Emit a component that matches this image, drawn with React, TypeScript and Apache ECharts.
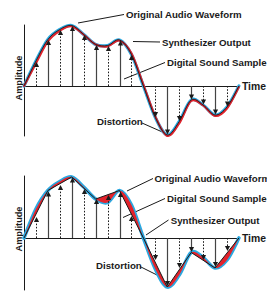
import React, { useEffect, useRef } from "react";
import * as echarts from "echarts";

// ---- data (amplitude in chart units, time in sample steps) ----
const sampleSteps = [0, 1, 2, 3, 4, 5, 6, 7, 8, 9, 10, 11, 12, 13, 14, 15, 16, 17, 18];
const topWave = [0, 25, 46.5, 56.5, 60.5, 51.5, 41.5, 40.5, 46, 31.5, 0, -31.5, -49, -35.5, -14, -19, -29, -21, 0];
const topSynth = [0, 22.5, 44.5, 55.2, 59.6, 51.3, 41.5, 39.6, 45.3, 32.8, 1.5, -30.5, -50, -37.5, -15, -19.5, -30, -22.5, -1];
const bottomWave = [0, 29, 47.5, 56.5, 61, 51, 39, 35.5, 47.5, 33, 0, -31, -49, -37, -14.5, -19.5, -30, -22, 0];
const heldSteps = [0, 2, 4, 6, 8, 10, 12, 14, 16, 18];
const bottomHeld = [0, 47.5, 61, 39, 47.5, 0, -49, -14.5, -30, 0];
const stemSteps = [1, 2, 3, 4, 5, 6, 7, 8, 9, 11, 12, 13, 14, 15, 16, 17];
const topStemTips = [24, 46, 56, 60, 51, 41, 40, 45.5, 31, -31, -48.5, -35, -13.5, -18.5, -28.5, -20.5];
const bottomStemTips = [21, 46.5, 53, 60.5, 49, 39, 43, 46, 22, -22, -48, -30, -14, -22, -29, -13];

const BLUE = "#2ba8e0";
const RED = "#e3222b";
const DARK = "#1a1a1a";
const STEM = "#444444";
const FONT = '"Liberation Sans", Arial, sans-serif';

let registered = false;
function registerShapes() {
  if (registered) return;
  registered = true;
  const Curve = (echarts.graphic as any).extendShape({
    shape: { points: [], from: 0, to: 0, close: false },
    buildPath(ctx: any, shape: any) {
      const p = shape.points as number[][];
      if (!p || p.length < 2) return;
      const from = shape.from;
      const to = shape.to;
      const t = 1 / 6;
      ctx.moveTo(p[from][0], p[from][1]);
      for (let i = from; i < to; i++) {
        const p0 = p[Math.max(i - 1, 0)];
        const p1 = p[i];
        const p2 = p[i + 1];
        const p3 = p[Math.min(i + 2, p.length - 1)];
        ctx.bezierCurveTo(
          p1[0] + (p2[0] - p0[0]) * t,
          p1[1] + (p2[1] - p0[1]) * t,
          p2[0] - (p3[0] - p1[0]) * t,
          p2[1] - (p3[1] - p1[1]) * t,
          p2[0],
          p2[1]
        );
      }
      if (shape.close) ctx.closePath();
    },
  });
  (echarts.graphic as any).registerShape("smoothCurve", Curve);
}

function toPts(api: any, ks: number[], vs: number[]) {
  return ks.map((k, i) => api.coord([k, vs[i]]));
}

function renderTopWave(_p: any, api: any) {
  const w = toPts(api, sampleSteps, topWave);
  const s = toPts(api, sampleSteps, topSynth);
  const n = w.length - 1;
  return {
    type: "group",
    children: [
      { type: "smoothCurve", shape: { points: w, from: 0, to: n, close: false }, style: { stroke: BLUE, lineWidth: 3.2, fill: "none", lineCap: "round", lineJoin: "round" } },
      { type: "smoothCurve", shape: { points: s, from: 0, to: n, close: false }, style: { stroke: RED, lineWidth: 2, fill: "none", lineCap: "round", lineJoin: "round" } },
      { type: "smoothCurve", shape: { points: w, from: 0, to: n, close: false }, style: { stroke: DARK, lineWidth: 0.9, fill: "none" } },
    ],
  };
}

function renderBottomWave(_p: any, api: any) {
  const w = toPts(api, sampleSteps, bottomWave);
  const n = w.length - 1;
  const children: any[] = [
    { type: "smoothCurve", shape: { points: w, from: 0, to: n, close: false }, style: { stroke: BLUE, lineWidth: 3.6, fill: "none", lineCap: "round", lineJoin: "round" } },
  ];
  for (let j = 0; j < heldSteps.length - 1; j++) {
    const a = sampleSteps.indexOf(heldSteps[j]);
    const b = sampleSteps.indexOf(heldSteps[j + 1]);
    children.push({ type: "smoothCurve", shape: { points: w, from: a, to: b, close: true }, style: { fill: RED, stroke: "none" } });
  }
  return { type: "group", children };
}

function renderStem(_p: any, api: any) {
  const k = api.value(0);
  const v = api.value(1);
  const solid = api.value(2) === 1;
  const base = api.coord([k, 0]);
  const tip = api.coord([k, v]);
  const dir = v >= 0 ? 1 : -1;
  const x = Math.round(base[0]) + 0.5;
  const ah = 5;
  const aw = 2.6;
  return {
    type: "group",
    children: [
      {
        type: "line",
        shape: { x1: x, y1: base[1], x2: x, y2: tip[1] + dir * ah * 0.7 },
        style: solid ? { stroke: STEM, lineWidth: 1.2 } : { stroke: DARK, lineWidth: 1, lineDash: [1.6, 1.6] },
      },
      {
        type: "polygon",
        shape: { points: [[x, tip[1]], [x - aw, tip[1] + dir * ah], [x + aw, tip[1] + dir * ah]] },
        style: { fill: DARK, stroke: "none" },
      },
    ],
  };
}

const labelStyle = { font: `bold 9.7px ${FONT}`, fill: DARK };
function label(text: string, x: number, y: number) {
  return { type: "text", x, y, style: { ...labelStyle, text, align: "left", verticalAlign: "middle", textVerticalAlign: "middle" } };
}
function leader(x1: number, y1: number, x2: number, y2: number) {
  return { type: "line", shape: { x1, y1, x2, y2 }, style: { stroke: DARK, lineWidth: 1 } };
}
function amp(y: number) {
  return {
    type: "text",
    x: 19,
    y,
    rotation: Math.PI / 2,
    style: { text: "Amplitude", font: `bold 9.2px ${FONT}`, fill: DARK, align: "center", verticalAlign: "middle", textAlign: "center", textVerticalAlign: "middle" },
  };
}

function xAxisCfg(gridIndex: number) {
  return {
    gridIndex,
    type: "value",
    min: 0,
    max: 18,
    axisLine: { show: true, onZero: true, lineStyle: { color: DARK, width: 1.2 } },
    axisTick: { show: false },
    axisLabel: { show: false },
    splitLine: { show: false },
    name: "Time",
    nameLocation: "end",
    nameGap: 3,
    nameTextStyle: { fontFamily: FONT, fontWeight: "bold", fontSize: 10.4, color: DARK },
  };
}
function yAxisCfg(gridIndex: number, min: number, max: number) {
  return {
    gridIndex,
    type: "value",
    min,
    max,
    axisLine: { show: true, onZero: false, lineStyle: { color: DARK, width: 1 } },
    axisTick: { show: false },
    axisLabel: { show: false },
    splitLine: { show: false },
  };
}

export default function App() {
  const ref = useRef<HTMLDivElement>(null);
  useEffect(() => {
    document.body.style.margin = "0";
    registerShapes();
    const chart = echarts.init(ref.current!, undefined, { renderer: "svg" });
    const option: any = {
      animation: false,
      backgroundColor: "#ffffff",
      grid: [
        { left: 24, width: 222.3, top: 25, height: 111 },
        { left: 24, width: 222.3, top: 176, height: 114 },
      ],
      xAxis: [xAxisCfg(0), xAxisCfg(1)],
      yAxis: [yAxisCfg(0, -50, 61), yAxisCfg(1, -52, 62)],
      series: [
        { type: "custom", name: "Original Audio Waveform", xAxisIndex: 0, yAxisIndex: 0, data: [[0, 0]], renderItem: renderTopWave, clip: false, z: 2, silent: true },
        {
          type: "custom",
          name: "Digital Sound Sample",
          xAxisIndex: 0,
          yAxisIndex: 0,
          data: stemSteps.map((k, i) => [k, topStemTips[i], k % 2 === 0 ? 1 : 0]),
          encode: { x: 0, y: 1 },
          renderItem: renderStem,
          clip: false,
          z: 5,
          silent: true,
        },
        { type: "custom", name: "Original Audio Waveform 2", xAxisIndex: 1, yAxisIndex: 1, data: [[0, 0]], renderItem: renderBottomWave, clip: false, z: 2, silent: true },
        {
          type: "line",
          name: "Synthesizer Output",
          xAxisIndex: 1,
          yAxisIndex: 1,
          data: heldSteps.map((k, i) => [k, bottomHeld[i]]),
          symbol: "none",
          lineStyle: { color: DARK, width: 1 },
          z: 3,
          silent: true,
        },
        {
          type: "custom",
          name: "Digital Sound Sample 2",
          xAxisIndex: 1,
          yAxisIndex: 1,
          data: stemSteps.map((k, i) => [k, bottomStemTips[i], k % 2 === 0 ? 1 : 0]),
          encode: { x: 0, y: 1 },
          renderItem: renderStem,
          clip: false,
          z: 5,
          silent: true,
        },
      ],
      graphic: [
        amp(78),
        amp(229),
        leader(78, 23, 124, 14.5),
        label("Original Audio Waveform", 126, 14.5),
        leader(133, 41.5, 160, 42),
        label("Synthesizer Output", 162, 42),
        leader(124, 79, 165, 62.5),
        label("Digital Sound Sample", 167, 62.5),
        leader(142, 123, 168, 134.5),
        label("Distortion", 97, 121.5),
        leader(127, 191, 153, 178.5),
        label("Original Audio Waveform", 154.5, 178.3),
        leader(123, 217.5, 165, 198.5),
        label("Digital Sound Sample", 167, 198.5),
        leader(146, 235, 168.5, 220),
        label("Synthesizer Output", 170.7, 220),
        leader(140, 266.5, 163, 278),
        label("Distortion", 96, 265),
      ],
    };
    chart.setOption(option);
    return () => chart.dispose();
  }, []);
  return <div ref={ref} style={{ width: 267, height: 293 }} />;
}
